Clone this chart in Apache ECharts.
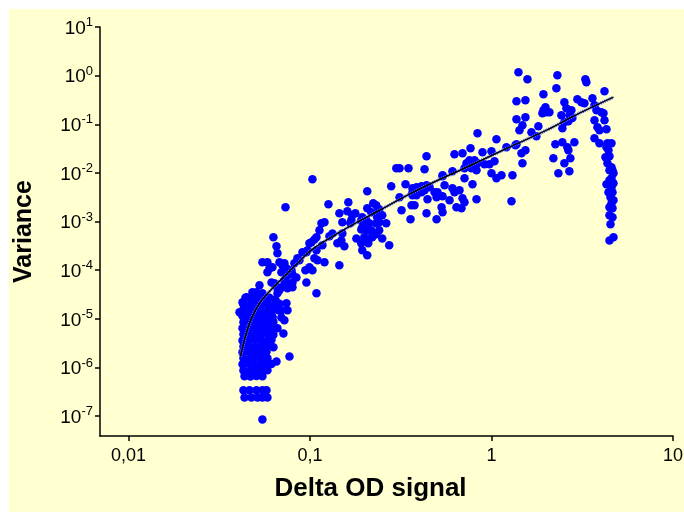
<!DOCTYPE html>
<html>
<head>
<meta charset="utf-8">
<script src="https://cdn.jsdelivr.net/npm/echarts@6/dist/echarts.min.js"></script>
<style>
  html, body { margin: 0; padding: 0; background: #fff; }
  #chart { position: absolute; left: 9px; top: 9px; width: 675px; height: 503px; }
</style>
</head>
<body>
<div id="chart"></div>
<script>
// axis ticks
const xTicks = [0.01, 0.1, 1, 10]
const xTickLabels = ['0,01', '0,1', '1', '10']
const yTicks = [1e-7, 1e-6, 1e-5, 1e-4, 1e-3, 1e-2, 1e-1, 1, 10]
const yTickExponents = ['-7', '-6', '-5', '-4', '-3', '-2', '-1', '0', '1']

// [delta OD signal, variance]
const lowCluster = [
  [0.0441, 2.7e-5], [0.0476, 2.5e-5], [0.0514, 2.8e-5], [0.0554, 2.6e-5], [0.0598, 2.7e-5], [0.0645, 2.5e-5],
  [0.0430, 2.0e-5], [0.0464, 1.9e-5], [0.0501, 2.1e-5], [0.0540, 1.95e-5], [0.0583, 2.0e-5], [0.0629, 1.9e-5], [0.0679, 2.05e-5],
  [0.0428, 1.5e-5], [0.0466, 1.45e-5], [0.0501, 1.55e-5], [0.0538, 1.5e-5], [0.0585, 1.45e-5], [0.0629, 1.55e-5], [0.0670, 1.5e-5],
  [0.0425, 1.15e-5], [0.0458, 1.1e-5], [0.0495, 1.15e-5], [0.0534, 1.1e-5], [0.0576, 1.15e-5], [0.0621, 1.1e-5],
  [0.0430, 8.5e-6], [0.0464, 8.8e-6], [0.0501, 8.3e-6], [0.0540, 8.6e-6], [0.0583, 8.4e-6], [0.0629, 8.7e-6],
  [0.0425, 6.4e-6], [0.0458, 6.2e-6], [0.0495, 6.6e-6], [0.0534, 6.3e-6], [0.0576, 6.5e-6], [0.0621, 6.3e-6], [0.0662, 6.4e-6],
  [0.0430, 4.8e-6], [0.0464, 4.9e-6], [0.0501, 4.7e-6], [0.0540, 4.8e-6], [0.0583, 4.9e-6], [0.0629, 4.7e-6],
  [0.0425, 3.6e-6], [0.0458, 3.5e-6], [0.0495, 3.7e-6], [0.0534, 3.6e-6], [0.0576, 3.5e-6], [0.0614, 3.7e-6],
  [0.0430, 2.7e-6], [0.0464, 2.75e-6], [0.0501, 2.65e-6], [0.0540, 2.7e-6], [0.0583, 2.75e-6], [0.0629, 2.6e-6],
  [0.0425, 2.05e-6], [0.0458, 2.1e-6], [0.0495, 2.0e-6], [0.0534, 2.05e-6], [0.0576, 2.1e-6],
  [0.0430, 1.55e-6], [0.0464, 1.5e-6], [0.0501, 1.58e-6], [0.0540, 1.52e-6], [0.0583, 1.55e-6],
  [0.0425, 1.16e-6], [0.0458, 1.2e-6], [0.0495, 1.13e-6], [0.0534, 1.17e-6], [0.0576, 1.15e-6], [0.0614, 1.18e-6],
  [0.0430, 8.7e-7], [0.0464, 8.5e-7], [0.0501, 8.9e-7], [0.0540, 8.6e-7], [0.0583, 8.8e-7],
  [0.0436, 6.6e-7], [0.0470, 6.5e-7], [0.0507, 6.7e-7], [0.0547, 6.6e-7],
  [0.0430, 3.4e-7], [0.0464, 3.4e-7], [0.0507, 3.4e-7], [0.0547, 3.4e-7], [0.0576, 3.4e-7],
  [0.0436, 2.4e-7], [0.0476, 2.4e-7], [0.0514, 2.4e-7], [0.0547, 2.4e-7], [0.0583, 2.4e-7],
  [0.0547, 8.5e-8],
  [0.0714, 5.0e-6], [0.0771, 1.69e-6], [0.0654, 1.33e-6], [0.0696, 1.07e-5], [0.0723, 9.3e-6],
  [0.0742, 2.08e-5], [0.0752, 1.5e-5], [0.0621, 1.07e-5], [0.0696, 1.5e-5], [0.0409, 1.36e-5],
  [0.0425, 2.18e-5], [0.0447, 2.77e-5], [0.0482, 3.5e-5], [0.0507, 3.5e-5], [0.0547, 3.35e-5],
  [0.0527, 4.9e-5], [0.0662, 3.35e-5], [0.0723, 4.9e-5], [0.0752, 4.25e-5], [0.0771, 4.9e-5],
  [0.0801, 4.45e-5], [0.0696, 4.45e-5], [0.0679, 3.86e-5]
]

const risingPart = [
  [0.0629, 4.75e-4], [0.0654, 3.1e-4], [0.0662, 2.23e-4], [0.0547, 1.45e-4], [0.0583, 1.45e-4],
  [0.0598, 1.09e-4], [0.0583, 9.05e-5], [0.0621, 1.15e-4], [0.0679, 1.45e-4], [0.0705, 1.26e-4],
  [0.0742, 1.09e-4], [0.0696, 9.05e-5], [0.0993, 3.58e-4], [0.0969, 2.57e-4], [0.0909, 2.34e-4],
  [0.0875, 1.6e-4], [0.0821, 1.39e-4], [0.0791, 9.95e-5], [0.0752, 7.85e-5], [0.0842, 7.1e-5],
  [0.0801, 5.6e-5], [0.0742, 5.6e-5], [0.0956, 5.6e-5], [0.0614, 5.6e-5], [0.0637, 5.4e-5],
  [0.0662, 4.25e-5], [0.1086, 3.35e-5], [0.0956, 2.34e-4], [0.1086, 2.57e-4], [0.1058, 1.76e-4],
  [0.0853, 1.76e-4], [0.0993, 1.15e-4], [0.1032, 9.95e-5], [0.0944, 9.95e-5], [0.0723, 1.39e-4],
  [0.0771, 9.5e-5], [0.0801, 8.2e-5], [0.0723, 6.2e-5], [0.1100, 1.6e-4], [0.1019, 3.75e-4],
  [0.1058, 4.3e-4], [0.1086, 4.75e-4]
]

const midBand = [
  [0.1032, 7.42e-3], [0.0733, 1.97e-3], [0.1264, 2.27e-3], [0.1627, 2.5e-3], [0.1452, 1.48e-3],
  [0.1607, 1.63e-3], [0.1778, 1.48e-3], [0.1157, 9.2e-4], [0.1202, 9.7e-4], [0.1508, 9.7e-4],
  [0.1690, 1.06e-3], [0.1669, 9.2e-4], [0.1917, 1.06e-3], [0.2121, 9.2e-4], [0.2407, 9.7e-4],
  [0.2631, 9.2e-4], [0.1128, 6.6e-4], [0.1917, 6.9e-4], [0.2175, 6.6e-4], [0.2407, 6.6e-4],
  [0.1330, 5.7e-4], [0.1280, 5.0e-4], [0.1508, 5.7e-4], [0.1489, 4.1e-4], [0.1801, 4.5e-4],
  [0.2203, 4.75e-4], [0.2317, 5.5e-4], [0.2501, 4.5e-4], [0.1171, 3.25e-4], [0.1416, 3.58e-4],
  [0.1547, 3.1e-4], [0.1917, 3.58e-4], [0.1941, 2.57e-4], [0.2094, 3.58e-4], [0.2732, 3.25e-4],
  [0.2068, 2.03e-4], [0.1202, 1.45e-4], [0.1452, 1.26e-4], [0.2068, 4.2e-3], [0.2231, 2.38e-3],
  [0.2068, 1.88e-3], [0.2317, 1.48e-3], [0.1712, 1.35e-3], [0.2317, 2.16e-3], [0.2407, 1.79e-3],
  [0.2175, 1.55e-3], [0.2501, 1.35e-3], [0.2347, 1.23e-3], [0.1941, 1.23e-3], [0.2042, 1.06e-3],
  [0.1941, 7.6e-4], [0.2068, 6.6e-4], [0.2317, 9.2e-4], [0.1991, 4.75e-4], [0.2121, 4.5e-4],
  [0.2990, 1.25e-2], [0.3491, 1.25e-2], [0.2802, 5.32e-3], [0.3361, 5.85e-3], [0.3767, 4.41e-3],
  [0.3672, 3.48e-3], [0.3864, 3.82e-3], [0.3195, 1.71e-3], [0.3767, 2.16e-3], [0.3581, 1.11e-3],
  [0.3626, 2.16e-3]
]

const upperBand = [
  [0.4387, 0.0221], [0.6253, 0.0243], [0.6925, 0.0254], [0.7665, 0.0322], [0.8925, 0.0267],
  [1.000, 0.0280], [1.209, 0.0338], [0.8375, 0.0656], [1.065, 0.0493], [0.4277, 0.0119],
  [0.5377, 0.00897], [0.6096, 0.0108], [0.7285, 0.0158], [0.7568, 0.0183], [0.8063, 0.0183],
  [0.8375, 0.0158], [0.7102, 0.0125], [0.7762, 0.0125], [0.9153, 0.0151], [0.975, 0.0151],
  [1.039, 0.0174], [0.7102, 0.00778], [0.8270, 0.0114], [1.000, 0.00986], [1.065, 0.00778],
  [1.135, 0.00897], [0.3672, 0.00484], [0.3864, 0.00508], [0.4117, 0.00532], [0.4387, 0.00558],
  [0.4557, 0.00508], [0.4014, 0.00441], [0.4277, 0.00441], [0.5046, 0.00401], [0.5515, 0.00558],
  [0.6253, 0.00401], [0.6667, 0.00441], [0.5874, 0.00274], [0.6925, 0.00302], [0.7102, 0.0025],
  [0.8270, 0.00288], [0.5377, 0.00332], [0.4858, 0.00401], [0.4983, 0.00316], [0.4443, 0.00288],
  [0.4387, 0.00148], [0.4983, 0.00111], [0.5377, 0.00155], [0.6413, 0.00197], [0.5310, 0.00197],
  [0.6838, 0.00188], [0.3115, 0.00316], [0.3115, 0.0125], [0.7861, 0.00585], [0.5377, 0.00855],
  [0.6096, 0.00484], [1.305, 0.00897], [1.289, 0.00262], [1.356, 0.0372], [0.3672, 0.00401],
  [0.3864, 0.00348], [0.4117, 0.00401]
]

const rightCluster = [
  [1.408, 1.18], [1.578, 0.847], [2.307, 1.024], [2.278, 0.553], [1.933, 0.416],
  [3.291, 0.847], [3.333, 0.735], [4.193, 0.48], [1.373, 0.299], [1.538, 0.313],
  [1.983, 0.225], [1.933, 0.195], [2.008, 0.177], [2.085, 0.177], [1.908, 0.169],
  [2.521, 0.285], [2.586, 0.214], [2.755, 0.195], [2.686, 0.154], [2.427, 0.154],
  [2.521, 0.110], [2.652, 0.116], [2.458, 0.0831], [2.790, 0.134], [2.973, 0.328],
  [3.128, 0.285], [3.250, 0.272], [3.600, 0.344], [3.693, 0.247], [3.788, 0.195],
  [4.036, 0.177], [4.140, 0.169], [4.193, 0.121], [3.693, 0.121], [3.836, 0.0872],
  [3.935, 0.0756], [4.301, 0.0793], [3.693, 0.0518], [3.935, 0.0408], [4.355, 0.0408],
  [4.301, 0.0338], [4.582, 0.0408], [1.373, 0.127], [1.538, 0.140], [1.481, 0.0958],
  [1.426, 0.0756], [1.660, 0.0688], [1.813, 0.0914], [1.768, 0.0569], [2.249, 0.0389],
  [2.458, 0.0428], [2.619, 0.0338], [2.862, 0.0428], [2.652, 0.0293], [2.193, 0.0201],
  [2.521, 0.0158], [2.720, 0.0201], [2.336, 0.00986], [2.686, 0.0108], [1.373, 0.0389],
  [1.538, 0.0293], [1.463, 0.0254], [1.481, 0.0158]
]

const dropOff = [
  [4.246, 0.0210], [4.467, 0.0221], [4.355, 0.0158], [4.582, 0.0131], [4.641, 0.0114],
  [4.700, 0.00986], [4.582, 0.00778], [4.700, 0.00614], [4.301, 0.00585], [4.582, 0.00508],
  [4.641, 0.00401], [4.525, 0.00316], [4.700, 0.00274], [4.582, 0.00238], [4.641, 0.00188],
  [4.467, 0.00135], [4.641, 0.00123], [4.525, 8.8e-4], [4.467, 4.1e-4], [4.700, 4.75e-4],
  [4.411, 0.0293], [4.467, 0.0114], [4.467, 0.00708], [4.411, 0.00401], [4.467, 0.00197]
]

// fitted curve
const fitLine = [
  [0.0414, 1.69e-6], [0.0441, 4.4e-6], [0.0476, 1.02e-5], [0.0527, 2.08e-5], [0.0614, 4.05e-5],
  [0.0724, 7.5e-5], [0.0843, 1.32e-4], [0.103, 2.69e-4], [0.159, 7.3e-4], [0.242, 1.71e-3],
  [0.353, 3.65e-3], [0.455, 5.85e-3], [0.728, 0.0131], [1.256, 0.0338], [2.01, 0.0756],
  [3.05, 0.169], [4.70, 0.361]
]

const font = 'Liberation Sans, Arial, sans-serif'
const sameTick = (v, t) => Math.abs(Math.log10(v) - Math.log10(t)) < 1e-6

let chart = null

const init = () => {
  const option = {
    backgroundColor: '#ffffd0',
    animation: false,
    grid: { left: 91, top: 18, right: 11, bottom: 76, containLabel: false, outerBoundsMode: 'none' },
    xAxis: {
      type: 'log',
      logBase: 10,
      min: 0.00697,
      max: 10,
      axisLine: { onZero: false, lineStyle: { color: '#000', width: 1.5 } },
      axisTick: { customValues: xTicks, length: 5, lineStyle: { color: '#000', width: 1.5 } },
      axisLabel: {
        customValues: xTicks,
        margin: 11,
        fontSize: 18,
        color: '#000',
        fontFamily: font,
        formatter: v => {
          const i = xTicks.findIndex(t => sameTick(v, t))
          return i < 0 ? '' : xTickLabels[i]
        }
      },
      splitLine: { show: false },
      minorTick: { show: false },
      name: 'Delta OD signal',
      nameLocation: 'middle',
      nameGap: 40,
      nameTextStyle: { fontSize: 26, fontWeight: 'bold', color: '#000', fontFamily: font, padding: [0, 32, 0, 0] }
    },
    yAxis: {
      type: 'log',
      logBase: 10,
      min: 3.9e-8,
      max: 10,
      axisLine: { onZero: false, lineStyle: { color: '#000', width: 1.5 } },
      axisTick: { customValues: yTicks, length: 5, lineStyle: { color: '#000', width: 1.5 } },
      axisLabel: {
        customValues: yTicks,
        margin: 7,
        color: '#000',
        fontFamily: font,
        formatter: v => {
          const i = yTicks.findIndex(t => sameTick(v, t))
          return i < 0 ? '' : '{base|10}{sup|' + yTickExponents[i] + '}'
        },
        rich: {
          base: { fontSize: 19, fontFamily: font, color: '#000', verticalAlign: 'bottom' },
          sup: { fontSize: 13, fontFamily: font, color: '#000', verticalAlign: 'bottom', padding: [0, 0, 9, 0] }
        }
      },
      splitLine: { show: false },
      minorTick: { show: false },
      name: 'Variance',
      nameLocation: 'middle',
      nameGap: 63,
      nameRotate: 90,
      nameTextStyle: { fontSize: 25, fontWeight: 'bold', color: '#000', fontFamily: font }
    },
    series: [
      {
        type: 'scatter',
        symbol: 'circle',
        symbolSize: 8.5,
        itemStyle: { color: '#0000ff', opacity: 1 },
        data: [...lowCluster, ...risingPart, ...midBand, ...upperBand, ...rightCluster, ...dropOff],
        z: 2
      },
      {
        type: 'line',
        data: fitLine,
        smooth: 0.3,
        showSymbol: false,
        lineStyle: { color: '#6070ff', width: 3.5, type: [1, 1] },
        z: 3
      },
      {
        type: 'line',
        data: fitLine,
        smooth: 0.3,
        showSymbol: false,
        lineStyle: { color: '#000', width: 1.5 },
        z: 4
      }
    ]
  }

  chart = echarts.init(document.getElementById('chart'))
  chart.setOption(option, true)
}

init()
</script>
</body>
</html>
